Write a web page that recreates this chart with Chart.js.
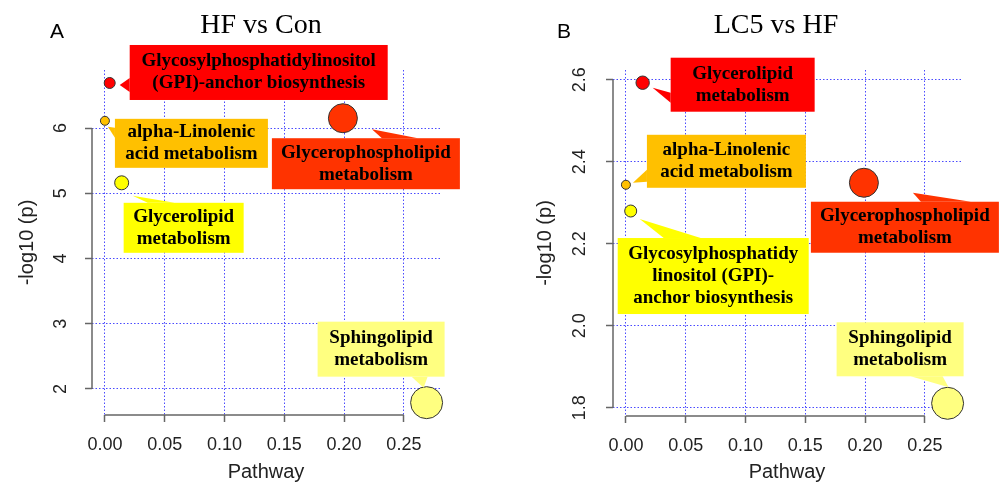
<!DOCTYPE html>
<html>
<head>
<meta charset="utf-8">
<script src="https://cdn.jsdelivr.net/npm/chart.js@4.4.1/dist/chart.umd.min.js"></script>
<style>
  body { margin: 0; background: #fff; }
  .panel { position: absolute; top: 0; width: 500px; height: 484px; }
</style>
</head>
<body>
<div class="panel" style="left:0"><canvas id="chartA" width="500" height="484"></canvas></div>
<div class="panel" style="left:500px"><canvas id="chartB" width="500" height="484"></canvas></div>
<script>
// pathways, same order in both panels
const pathways = [
  'Glycosylphosphatidylinositol (GPI)-anchor biosynthesis',
  'alpha-Linolenic acid metabolism',
  'Glycerolipid metabolism',
  'Glycerophospholipid metabolism',
  'Sphingolipid metabolism'
];
const impact = [0.004, 0, 0.014, 0.199, 0.269];   // pathway impact (x)
const logpA = [6.69, 6.11, 5.16, 6.15, 1.79];      // HF vs Con, -log10(p)
const logpB = [2.28, 2.344, 2.593, 2.349, 1.811];  // LC5 vs HF, -log10(p)
const sizeA = [5.5, 4.5, 7, 14.5, 16];             // bubble radius
const sizeB = [6, 4.5, 6.7, 14.5, 16];
const xTicks = [0, 0.05, 0.1, 0.15, 0.2, 0.25];
const yTicksA = [2, 3, 4, 5, 6];
const yTicksB = [1.8, 2.0, 2.2, 2.4, 2.6];

const RED = '#ff0000', ORANGE = '#ff3300', GOLD = '#ffc000', YELLOW = '#ffff00', PALE = '#ffff80';
const colorsA = [RED, GOLD, YELLOW, ORANGE, PALE];
const colorsB = [YELLOW, GOLD, RED, ORANGE, PALE];
const GRID = '#4a4aff';

// callout boxes, offsets are relative to the bubble centre
const calloutsA = [
  { i: 0, lines: ['Glycosylphosphatidylinositol', '(GPI)-anchor biosynthesis'], box: [20, -38, 258, 55], tri: [10, 2, 20, -5, 20, 9] },
  { i: 1, lines: ['alpha-Linolenic', 'acid metabolism'], box: [10, -2, 153, 49], tri: [3, 6, 10, 7, 10, 17] },
  { i: 2, lines: ['Glycerolipid', 'metabolism'], box: [2, 20, 120, 50], tri: [11, 13, 26, 20, 53, 20] },
  { i: 3, lines: ['Glycerophospholipid', 'metabolism'], box: [-71, 20, 188, 51], tri: [29, 11, 39, 20, 75, 20] },
  { i: 4, lines: ['Sphingolipid', 'metabolism'], box: [-109, -81, 127, 55], tri: [-3, -15, -15, -26, 1, -26] }
];
const calloutsB = [
  { i: 0, lines: ['Glycosylphosphatidy', 'linositol (GPI)-', 'anchor biosynthesis'], box: [-13, 27, 191, 76], tri: [9, 8, 33, 27, 70, 27] },
  { i: 1, lines: ['alpha-Linolenic', 'acid metabolism'], box: [21, -50, 159, 53], tri: [7, -2, 21, -15, 21, -3] },
  { i: 2, lines: ['Glycerolipid', 'metabolism'], box: [28, -25, 144, 54], tri: [10, 5, 28, 10, 28, 20] },
  { i: 3, lines: ['Glycerophospholipid', 'metabolism'], box: [-53, 19, 188, 51], tri: [49, 10, 57, 19, 107, 19] },
  { i: 4, lines: ['Sphingolipid', 'metabolism'], box: [-111, -81, 127, 54], tri: [1, -16, -37, -27, -5, -27] }
];

const decor = {
  id: 'decor',
  afterDatasetsDraw(chart, args, opts) {
    const ctx = chart.ctx;
    const pts = chart.getDatasetMeta(0).data;
    opts.callouts.forEach(c => {
      const x0 = pts[c.i].x, y0 = pts[c.i].y;
      const fill = chart.data.datasets[0].backgroundColor[c.i];
      ctx.save();
      ctx.fillStyle = fill;
      ctx.fillRect(x0 + c.box[0], y0 + c.box[1], c.box[2], c.box[3]);
      ctx.beginPath();
      ctx.moveTo(x0 + c.tri[0], y0 + c.tri[1]);
      ctx.lineTo(x0 + c.tri[2], y0 + c.tri[3]);
      ctx.lineTo(x0 + c.tri[4], y0 + c.tri[5]);
      ctx.closePath();
      ctx.fill();
      ctx.fillStyle = '#000';
      ctx.font = 'bold 19px "Liberation Serif"';
      ctx.textAlign = 'center';
      ctx.textBaseline = 'middle';
      const cx = x0 + c.box[0] + c.box[2] / 2;
      const cy = y0 + c.box[1] + c.box[3] / 2;
      c.lines.forEach((t, k) => ctx.fillText(t, cx, cy + (k - (c.lines.length - 1) / 2) * 22));
      ctx.restore();
    });
  },
  afterDraw(chart, args, opts) {
    const { ctx, chartArea, scales: { x, y } } = chart;
    ctx.save();
    // R style axes: only from first to last tick
    ctx.strokeStyle = '#666';
    ctx.lineWidth = 1.5;
    ctx.beginPath();
    ctx.moveTo(x.getPixelForValue(x.ticks[0].value), chartArea.bottom);
    ctx.lineTo(x.getPixelForValue(x.ticks[x.ticks.length - 1].value), chartArea.bottom);
    ctx.moveTo(chartArea.left, y.getPixelForValue(y.ticks[0].value));
    ctx.lineTo(chartArea.left, y.getPixelForValue(y.ticks[y.ticks.length - 1].value));
    ctx.stroke();
    ctx.fillStyle = '#000';
    ctx.textAlign = 'center';
    ctx.textBaseline = 'alphabetic';
    ctx.font = '28px "Liberation Serif"';
    ctx.fillText(opts.title, opts.titleX, 33);
    ctx.font = '21px "Liberation Sans"';
    ctx.fillText(opts.letter, opts.letterX, 38);
    ctx.restore();
  }
};

function makeChart(id, logp, size, colors, yTicks, yMin, yMax, yFmt, o) {
  return new Chart(document.getElementById(id), {
    type: 'bubble',
    data: {
      datasets: [{
        label: 'pathways',
        data: impact.map((v, i) => ({ x: v, y: logp[i], r: size[i] })),
        backgroundColor: colors,
        borderColor: '#333',
        borderWidth: 1,
        clip: false
      }]
    },
    options: {
      responsive: false,
      animation: false,
      events: [],
      layout: { padding: { top: 70, right: o.padRight, left: 0, bottom: 0 } },
      plugins: {
        legend: { display: false },
        tooltip: { enabled: false },
        decor: { callouts: o.callouts, title: o.title, titleX: o.titleX, letter: o.letter, letterX: o.letterX }
      },
      scales: {
        x: {
          type: 'linear',
          min: -0.0108,
          max: 0.2802,
          afterBuildTicks: s => { s.ticks = xTicks.map(v => ({ value: v })); },
          afterFit: s => { s.height = o.xHeight; },
          ticks: {
            font: { family: 'Liberation Sans', size: 18 },
            color: '#222',
            padding: 12,
            maxRotation: 0,
            callback: v => v.toFixed(2)
          },
          grid: { color: GRID, lineWidth: 1, tickColor: '#666', tickWidth: 1.5, tickLength: 7 },
          border: { display: false, dash: [1.5, 2] },
          title: { display: true, text: 'Pathway', font: { family: 'Liberation Sans', size: 20 }, color: '#222', padding: { top: 0, bottom: 0 } }
        },
        y: {
          type: 'linear',
          position: 'left',
          min: yMin,
          max: yMax,
          afterBuildTicks: s => { s.ticks = yTicks.map(v => ({ value: v })); },
          afterFit: s => { s.width = o.yWidth; },
          ticks: {
            font: { family: 'Liberation Sans', size: 18 },
            color: '#222',
            padding: o.yPad,
            minRotation: 90,
            maxRotation: 90,
            crossAlign: 'center',
            callback: yFmt
          },
          grid: { color: GRID, lineWidth: 1, tickColor: '#666', tickWidth: 1.5, tickLength: 7 },
          border: { display: false, dash: [1.5, 2] },
          title: { display: true, text: '-log10 (p)', font: { family: 'Liberation Sans', size: 20 }, color: '#222', padding: { top: o.yTitlePad, bottom: 0 } }
        }
      }
    },
    plugins: [decor]
  });
}

makeChart('chartA', logpA, sizeA, colorsA, yTicksA, 1.601, 6.889, v => String(v), {
  callouts: calloutsA, title: 'HF vs Con', titleX: 261, letter: 'A', letterX: 57,
  padRight: 60, xHeight: 69, yWidth: 92, yPad: 19, yTitlePad: 15
});
makeChart('chartB', logpB, sizeB, colorsB, yTicksB, 1.780, 2.624, v => v.toFixed(1), {
  callouts: calloutsB, title: 'LC5 vs HF', titleX: 276, letter: 'B', letterX: 64,
  padRight: 39, xHeight: 68, yWidth: 113, yPad: 13, yTitlePad: 33
});
</script>
</body>
</html>
